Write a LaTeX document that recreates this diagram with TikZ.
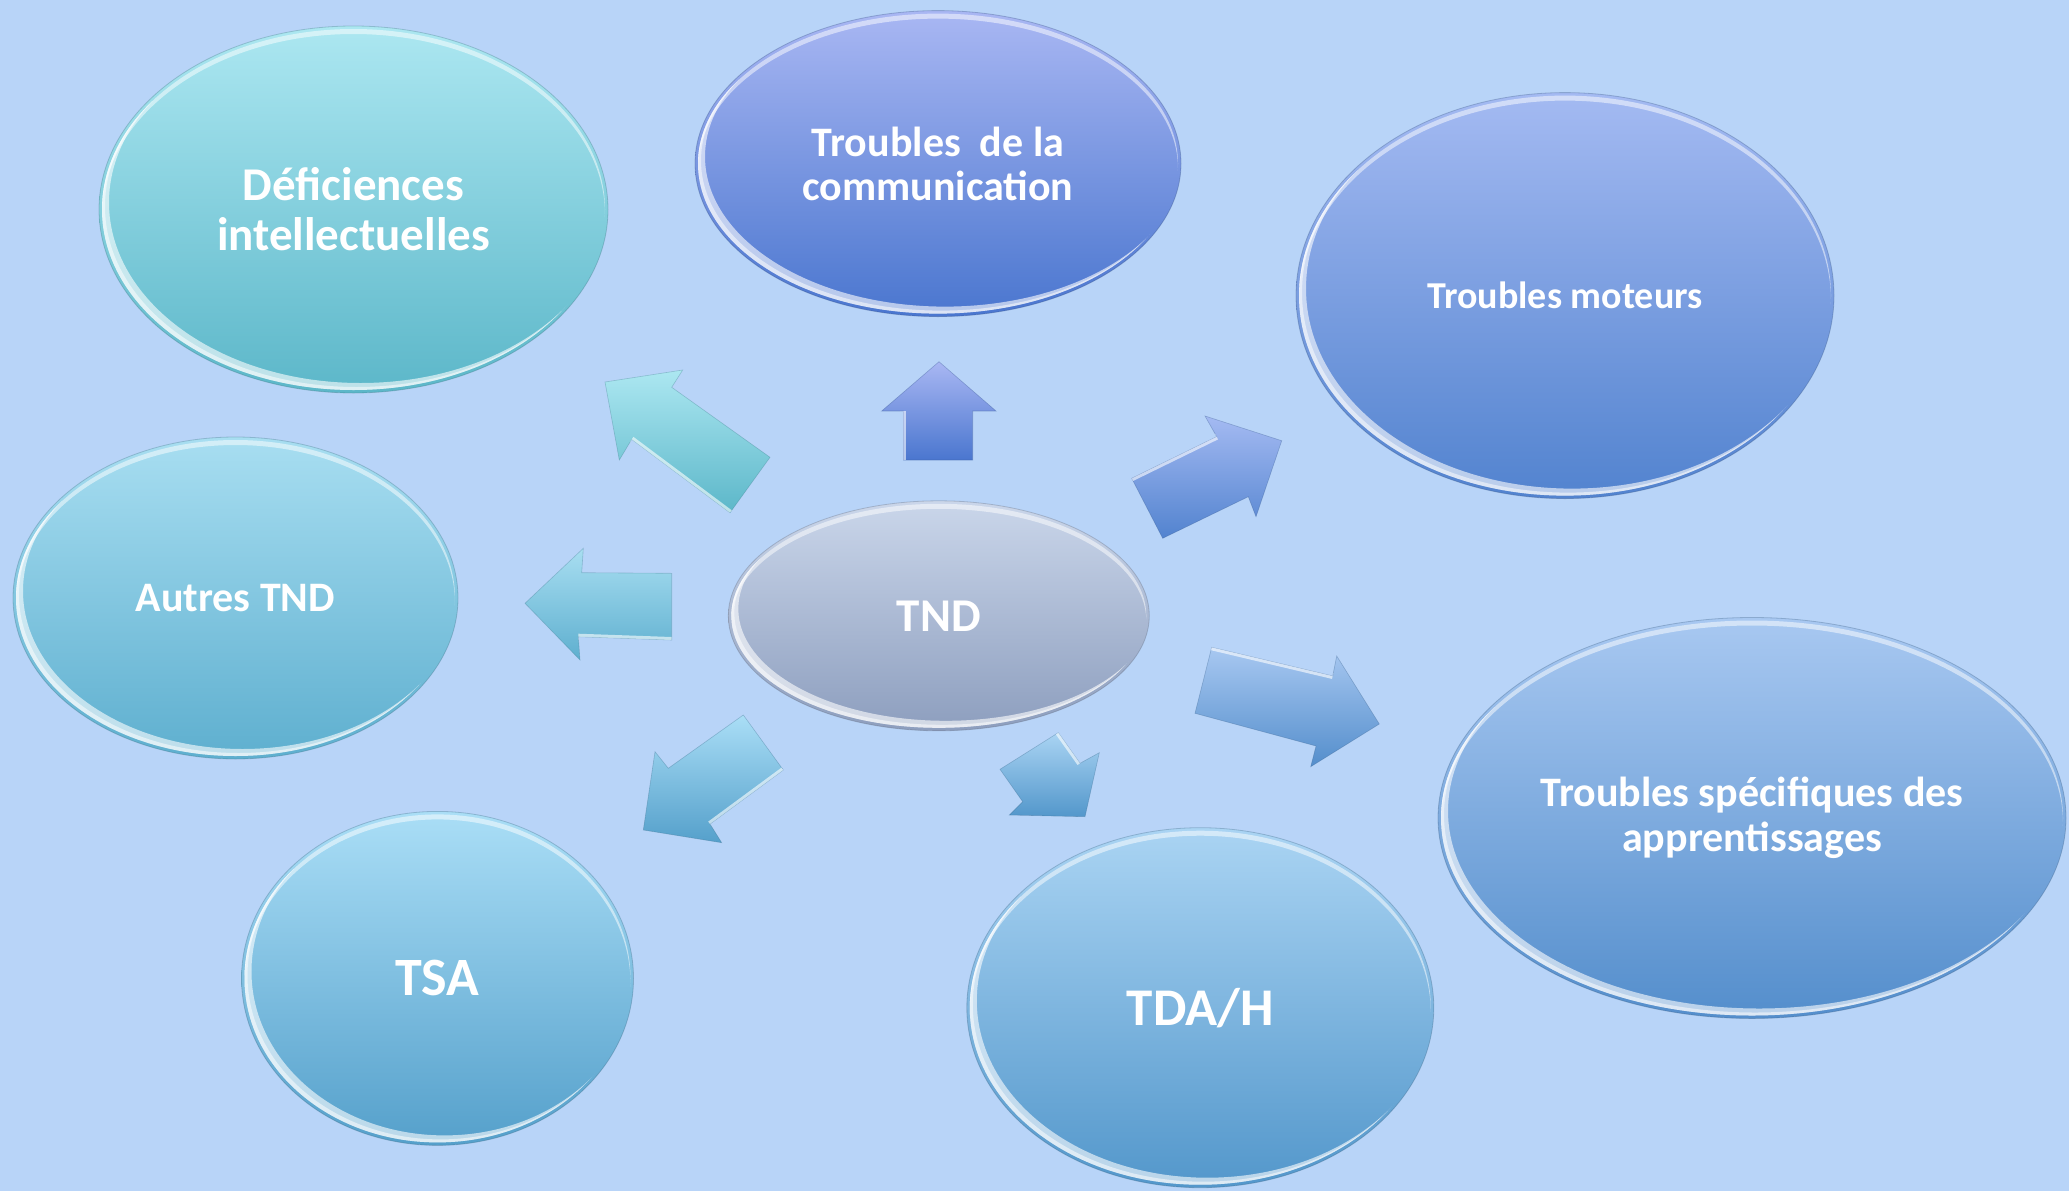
\documentclass[tikz,border=0pt]{standalone}
\usepackage{fontspec}
\setmainfont{Carlito}
\usetikzlibrary{shapes.geometric}
\definecolor{bg}{RGB}{184,212,248}
\definecolor{deftop}{RGB}{172,231,241}
\definecolor{defbot}{RGB}{92,183,201}
\definecolor{comtop}{RGB}{169,183,243}
\definecolor{combot}{RGB}{74,118,207}
\definecolor{mottop}{RGB}{164,186,242}
\definecolor{motbot}{RGB}{82,131,207}
\definecolor{auttop}{RGB}{168,222,241}
\definecolor{autbot}{RGB}{94,175,207}
\definecolor{tsatop}{RGB}{170,222,246}
\definecolor{tsabot}{RGB}{85,160,203}
\definecolor{tdatop}{RGB}{170,212,243}
\definecolor{tdabot}{RGB}{83,151,203}
\definecolor{spetop}{RGB}{168,200,241}
\definecolor{spebot}{RGB}{84,142,204}
\definecolor{tndtop}{RGB}{202,214,234}
\definecolor{tndbot}{RGB}{141,158,190}
\tikzset{
  bubble/.style={ellipse, inner sep=0pt,
    top color=#1top, bottom color=#1bot, draw=#1bot!60!black, draw opacity=.3, line width=.8pt},
  barrow/.style={top color=#1top, bottom color=#1bot, draw=#1bot!70!black, draw opacity=.35, line width=.6pt, line join=miter},
  shine/.style={white, line width=6pt, opacity=.6},
  txt/.style={text=white, align=center},
}
% crescent highlight: inside the ellipse (clip), outside a shifted copy
% #1,#2 centre  #3,#4 radii  #5,#6 shifted centre  #7 opacity
\newcommand\crescent[7]{%
  \fill[white, opacity=#7, even odd rule] (#5,#6) ellipse [x radius=#3-3, y radius=#4-3]
     (#1-700,#2-700) rectangle (#1+700,#2+700);
}
\newcommand\gloss[4]{% cx, cy, rx, ry  (y grows downward)
  \begin{scope}
    \clip (#1,#2) ellipse [x radius=#3-3, y radius=#4-3];
    \crescent{#1}{#2}{#3}{#4}{#1}{#2+5}{.5}
    \crescent{#1}{#2}{#3}{#4}{#1+7}{#2-7}{.6}
    \crescent{#1}{#2}{#3}{#4}{#1+3}{#2-3}{.5}
  \end{scope}
}
\begin{document}
\begin{tikzpicture}[x=1pt, y=-1pt]
\fill[bg] (0,0) rectangle (2069,1191);
\useasboundingbox (0,0) rectangle (2069,1191);

% ---------- block arrows ----------
\def\pUL{(605,382) -- (682.7,370) -- (671.7,387.3) -- (770,457.3) -- (730,512.7) -- (631.7,439.3) -- (619.3,460) -- cycle}
\def\pUP{(939,361.7) -- (996,411) -- (972.7,411) -- (972.7,460) -- (903.3,460) -- (903.3,411) -- (881.7,411) -- cycle}
\def\pUR{(1281.7,440.7) -- (1205,416) -- (1216.7,436.7) -- (1131.7,478.3) -- (1162.7,538.3) -- (1248.3,496.7) -- (1256,516.7) -- cycle}
\def\pLE{(525,603.3) -- (583.3,548.3) -- (581.7,572.7) -- (671.7,573.3) -- (671.7,640) -- (578.3,636.7) -- (580,660) -- cycle}
\def\pLL{(643.3,830) -- (655,751.7) -- (668.3,768.3) -- (743.3,715) -- (783.3,770) -- (710,824) -- (721.7,842.7) -- cycle}
\def\pDN{(1085,816.7) -- (1099.3,752.7) -- (1080,763.3) -- (1058.3,732.7) -- (1000,769.3) -- (1022.7,801.7) -- (1009.3,815) -- cycle}
\def\pRL{(1379.3,724) -- (1336.7,656) -- (1332.7,676) -- (1211.7,647.3) -- (1195,713.3) -- (1316,746) -- (1310.7,766.7) -- cycle}

\path[barrow=def] \pUL;
\begin{scope}\clip \pUL; \draw[shine] (631.7,439.3) -- (730,512.7); \end{scope}
\path[barrow=com] \pUP;
\begin{scope}\clip \pUP; \draw[shine] (903.3,411) -- (903.3,460); \end{scope}
\path[barrow=mot] \pUR;
\begin{scope}\clip \pUR; \draw[shine] (1131.7,478.3) -- (1216.7,436.7); \end{scope}
\path[barrow=aut] \pLE;
\begin{scope}\clip \pLE; \draw[shine] (578.3,636.7) -- (671.7,640); \end{scope}
\path[barrow=tsa] \pLL;
\begin{scope}\clip \pLL; \draw[shine] (783.3,770) -- (710,824); \end{scope}
\path[barrow=tda] \pDN;
\begin{scope}\clip \pDN; \draw[shine] (1058.3,732.7) -- (1080,763.3); \end{scope}
\path[barrow=spe] \pRL;
\begin{scope}\clip \pRL; \draw[shine] (1211.7,647.3) -- (1332.7,676); \end{scope}

% ---------- ellipses ----------
\node[bubble=def, minimum width=509pt, minimum height=367pt] (def) at (353.5,209.5) {};
\gloss{353.5}{209.5}{254.5}{183.5}
\node[txt, font=\fontsize{47}{50}\selectfont\bfseries] (deft) at (def.center) {Déficiences\\intellectuelles};
\node[bubble=com, minimum width=486pt, minimum height=306pt] (com) at (938,163.6) {};
\gloss{938}{163.6}{243}{153}
\node[txt, font=\fontsize{42}{44}\selectfont\bfseries] (comt) at (com.center) {Troubles~ de la\\communication};
\node[bubble=mot, minimum width=538pt, minimum height=406pt] (mot) at (1565,295.6) {};
\gloss{1565}{295.6}{269}{203}
\node[txt, font=\fontsize{38}{42}\selectfont\bfseries] (mott) at (mot.center) {Troubles moteurs};
\node[bubble=aut, minimum width=445pt, minimum height=322pt] (aut) at (235.5,598) {};
\gloss{235.5}{598}{222.5}{161}
\node[txt, font=\fontsize{42}{44}\selectfont\bfseries] (autt) at (aut.center) {Autres TND};
\node[bubble=tsa, minimum width=392pt, minimum height=334pt] (tsa) at (437.5,978.4) {};
\gloss{437.5}{978.4}{196}{167}
\node[txt, font=\fontsize{54}{56}\selectfont\bfseries] (tsat) at (tsa.center) {TSA};
\node[bubble=tda, minimum width=467pt, minimum height=360pt] (tda) at (1200.3,1007.7) {};
\gloss{1200.3}{1007.7}{233.5}{180}
\node[txt, font=\fontsize{53}{56}\selectfont\bfseries] (tdat) at (tda.center) {TDA/H};
\node[bubble=spe, minimum width=628pt, minimum height=401pt] (spe) at (1752,818) {};
\gloss{1752}{818}{314}{200.5}
\node[txt, font=\fontsize{42}{45}\selectfont\bfseries] (spet) at (spe.center) {Troubles spécifiques des\\apprentissages};
\node[bubble=tnd, minimum width=421pt, minimum height=230pt] (tnd) at (938.8,615.8) {};
\gloss{938.8}{615.8}{210.5}{115}
\node[txt, font=\fontsize{47}{50}\selectfont\bfseries] (tndt) at (tnd.center) {TND};
\end{tikzpicture}
\end{document}
